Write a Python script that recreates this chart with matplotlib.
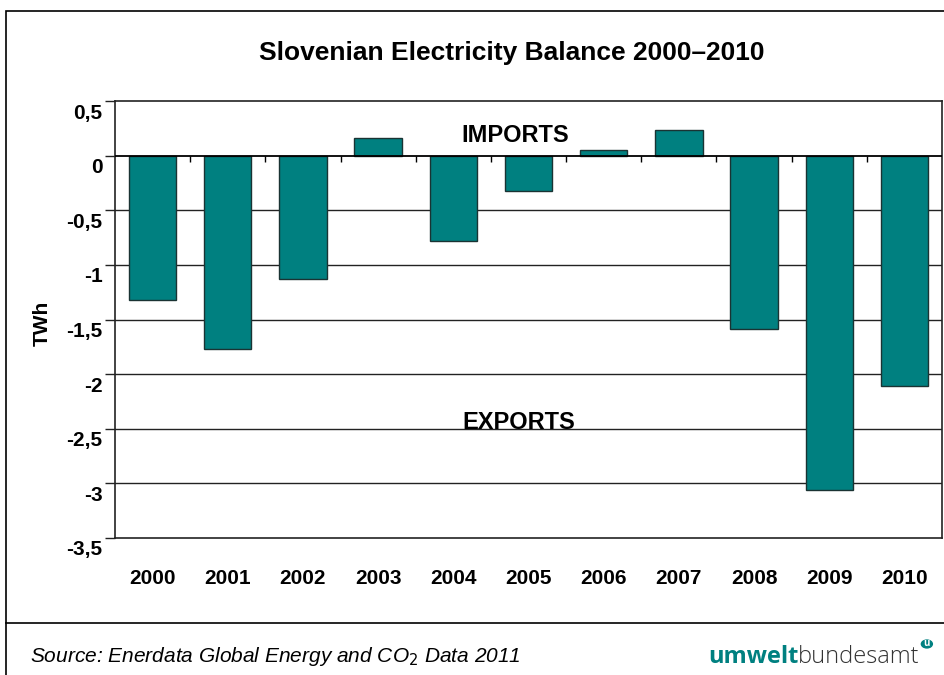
import matplotlib
matplotlib.use("Agg")
import matplotlib.pyplot as plt
import matplotlib.transforms as mtransforms
from matplotlib.patches import Rectangle, Circle
from matplotlib.lines import Line2D

plt.rcParams['font.family'] = ['Liberation Sans', 'DejaVu Sans']

years = ["2000", "2001", "2002", "2003", "2004", "2005", "2006", "2007", "2008", "2009", "2010"]
balance = [-1.32, -1.77, -1.13, 0.16, -0.78, -0.32, 0.05, 0.23, -1.59, -3.06, -2.11]
yticks = [0.5, 0, -0.5, -1, -1.5, -2, -2.5, -3, -3.5]
ytick_labels = ["0,5", "0", "-0,5", "-1", "-1,5", "-2", "-2,5", "-3", "-3,5"]

teal = "#008080"

fig = plt.figure(figsize=(9.44, 6.75), dpi=100)
W, H = 944, 675

# outer frame and footer separator
fig.add_artist(Rectangle((6 / W, -0.1), 1.2, (675 - 11) / H + 0.1, transform=fig.transFigure,
                         fill=False, edgecolor="black", linewidth=1.2))
fig.add_artist(Line2D([6 / W, 1.0], [1 - 623 / H, 1 - 623 / H], transform=fig.transFigure,
                      color="black", linewidth=1.2))

ax = fig.add_axes([115 / W, 1 - 538 / H, (942 - 115) / W, (538 - 101) / H])
x = list(range(len(years)))
ax.bar(x, balance, width=0.63, color=teal, edgecolor="#1a3333", linewidth=1.0, zorder=3)

ax.set_xlim(-0.5, len(years) - 0.5)
ax.set_ylim(-3.5, 0.5)
ax.set_yticks(yticks)
ax.set_yticklabels(ytick_labels, fontsize=15, fontweight="bold")
ax.tick_params(axis="y", direction="out", length=7, width=1, pad=2, color="#222222")
ax.set_xticks(x)
ax.set_xticklabels(years, fontsize=15, fontweight="bold")
ax.tick_params(axis="x", length=0, pad=22)

offset = mtransforms.ScaledTranslation(0, -10 / 100, fig.dpi_scale_trans)
for lab in ax.get_yticklabels():
    lab.set_transform(lab.get_transform() + offset)

for yv in yticks:
    if -3.5 < yv < 0.5 and yv != 0:
        ax.axhline(yv, color="#222222", linewidth=1.0, zorder=1)
ax.axhline(0, color="black", linewidth=1.3, zorder=4)
ax.vlines([i + 0.5 for i in x[:-1]], -0.06, 0, color="black", linewidth=1.0, zorder=4)

for s in ["left", "bottom", "top", "right"]:
    ax.spines[s].set_color("#222222")
    ax.spines[s].set_linewidth(1.2)

ax.set_ylabel("TWh", fontsize=15, fontweight="bold")
ax.yaxis.set_label_coords(-0.076, 0.49)

ax.text(4.82, 0.18, "IMPORTS", ha="center", va="center", fontsize=17, fontweight="bold", zorder=5)
ax.text(4.87, -2.44, "EXPORTS", ha="center", va="center", fontsize=17, fontweight="bold", zorder=5)

fig.text(512 / W, 1 - 53 / H, "Slovenian Electricity Balance 2000\u20132010", ha="center", va="center",
         fontsize=19, fontweight="bold")

fig.text(30 / W, 1 - 657 / H, "Source: Enerdata Global Energy and CO$_2$ Data 2011", ha="left",
         va="center", fontsize=15, style="italic")

t1 = fig.text(708 / W, 1 - 657 / H, "umwelt", ha="left", va="center", fontsize=17,
              fontweight="bold", color=teal, family="Open Sans")
fig.canvas.draw()
bb = t1.get_window_extent()
t2 = fig.text(bb.x1 / W, 1 - 657 / H, "bundesamt", ha="left", va="center", fontsize=17,
              color="#333333", family="Open Sans", fontweight="light")
fig.canvas.draw()
bb2 = t2.get_window_extent()
cx, cy = bb2.x1 + 7, H - 644
fig.add_artist(Circle((cx / W, cy / H), 5.5 / W, transform=fig.transFigure, color=teal))
fig.text(cx / W, cy / H, "u", ha="center", va="center", fontsize=7, fontweight="bold",
         color="white", family="Open Sans")

fig.savefig("out.png", dpi=100)
